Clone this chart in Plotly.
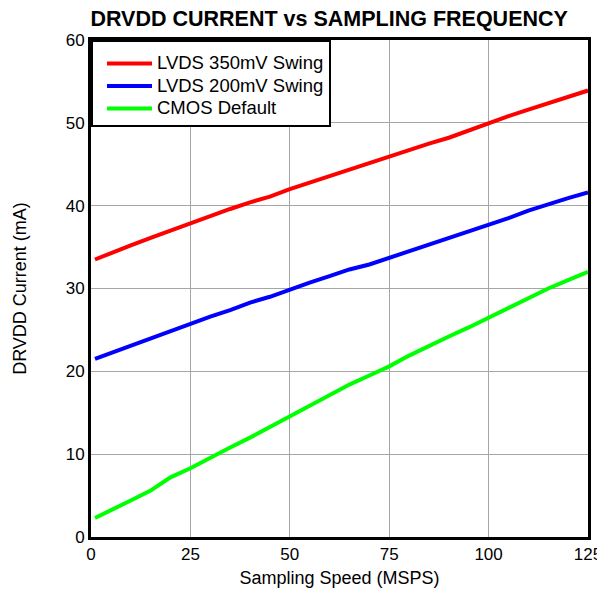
import plotly.graph_objects as go

# Sampling speed (MSPS)
speed = [1, 5, 10, 15, 20, 25, 30, 35, 40, 45, 50, 55, 60, 65, 70,
         75, 80, 85, 90, 95, 100, 105, 110, 115, 120, 125]

# DRVDD current (mA)
lvds_350 = [33.5, 34.3, 35.2, 36.1, 37.0, 37.9, 38.7, 39.6, 40.4, 41.1,
            42.0, 42.8, 43.6, 44.4, 45.2, 45.9, 46.7, 47.5, 48.2, 49.1,
            50.0, 50.8, 51.6, 52.4, 53.1, 53.9]
lvds_200 = [21.5, 22.2, 23.1, 24.0, 24.9, 25.8, 26.6, 27.4, 28.3, 29.0,
            29.9, 30.7, 31.5, 32.3, 32.9, 33.7, 34.4, 35.3, 36.0, 36.8,
            37.7, 38.5, 39.4, 40.2, 40.9, 41.6]
cmos_default = [2.3, 3.2, 4.4, 5.6, 7.2, 8.3, 9.6, 10.8, 12.0, 13.3,
                14.6, 15.8, 17.1, 18.4, 19.5, 20.6, 21.9, 23.1, 24.2, 25.3,
                26.5, 27.7, 28.8, 30.0, 31.0, 32.0]

x_ticks = [0, 25, 50, 75, 100, 125]
y_ticks = [0, 10, 20, 30, 40, 50, 60]

FONT = "Liberation Sans, Arial, sans-serif"

series = [
    ("LVDS 350mV Swing", lvds_350, "#ff0000"),
    ("LVDS 200mV Swing", lvds_200, "#0000ff"),
    ("CMOS Default", cmos_default, "#00ff00"),
]

fig = go.Figure()
for name, vals, color in series:
    fig.add_trace(
        go.Scatter(
            x=speed,
            y=vals,
            mode="lines",
            # bigger text than the legend font, so rows stay tight like the original
            name=f'<span style="font-size:18.5px">{name}</span>',
            line={"color": color, "width": 4},
        )
    )

axis_common = {
    "showline": True,
    "linecolor": "black",
    "linewidth": 3,
    "mirror": True,
    "showgrid": True,
    "gridcolor": "#a6a6a6",
    "gridwidth": 1,
    "zeroline": False,
    "ticks": "",
    "automargin": False,
    "tickfont": {"size": 17, "color": "black", "family": FONT},
}

# page body keeps an 8px margin, so the figure is 8px smaller each way
fig.update_layout(
    width=597,
    height=587,
    margin={"l": 83, "r": 17, "t": 32, "b": 58},
    paper_bgcolor="white",
    plot_bgcolor="white",
    font={"family": FONT, "color": "black"},
    title={
        "text": "<b>DRVDD CURRENT vs SAMPLING FREQUENCY</b>",
        "x": 0.538,
        "xanchor": "center",
        "xref": "container",
        "y": 0.983,
        "yanchor": "middle",
        "font": {"size": 21.5, "color": "black", "family": FONT},
    },
    xaxis={
        **axis_common,
        "range": [0, 125],
        "tickvals": x_ticks,
        "title": {"text": "Sampling Speed (MSPS)", "font": {"size": 18}, "standoff": 8},
    },
    yaxis={
        **axis_common,
        "range": [0, 60],
        "tickvals": y_ticks,
        "title": {"text": "DRVDD Current (mA)", "font": {"size": 18}, "standoff": 35},
    },
    legend={
        "x": 0,
        "y": 1,
        "xanchor": "left",
        "yanchor": "top",
        "bgcolor": "white",
        "bordercolor": "black",
        "borderwidth": 2,
        "indentation": 9,
        "itemwidth": 45,
        "title": {"text": "\u00a0", "font": {"size": 4}},
        "font": {"size": 15, "color": "black", "family": FONT},
    },
    showlegend=True,
)

fig.write_html("out.html")
